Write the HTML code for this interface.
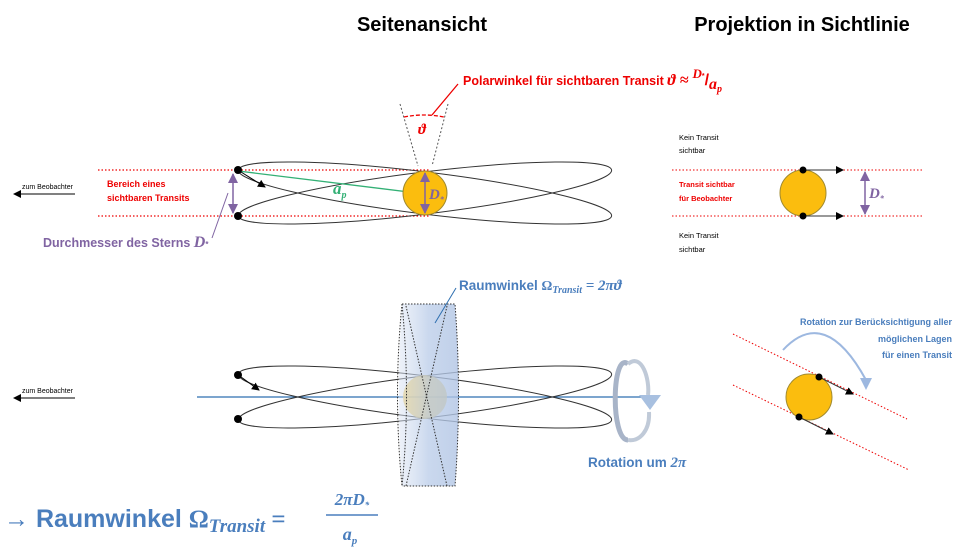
<!DOCTYPE html>
<html><head><meta charset="utf-8"><style>
body{margin:0;background:#fff;}
svg{display:block;font-family:"Liberation Sans",sans-serif;}
</style></head><body>
<svg width="960" height="557" viewBox="0 0 960 557" xmlns="http://www.w3.org/2000/svg">
<defs>
<marker id="ab" markerWidth="8" markerHeight="8" refX="7" refY="4" orient="auto" markerUnits="userSpaceOnUse"><path d="M0,0 L8,4 L0,8 z" fill="#000"/></marker>
<marker id="ap" markerWidth="10" markerHeight="10" refX="9" refY="5" orient="auto-start-reverse" markerUnits="userSpaceOnUse"><path d="M0,0 L10,5 L0,10 z" fill="#8064a2"/></marker>
<linearGradient id="cyl" x1="0" x2="1"><stop offset="0" stop-color="#dbe4f3" stop-opacity="0.5"/><stop offset="0.5" stop-color="#b8cbe8" stop-opacity="0.75"/><stop offset="1" stop-color="#b0c4e4" stop-opacity="0.8"/></linearGradient>
</defs>
<text x="422" y="31" font-size="20" font-weight="bold" text-anchor="middle">Seitenansicht</text>
<text x="802" y="31" font-size="20" font-weight="bold" text-anchor="middle">Projektion in Sichtlinie</text>

<line x1="98" y1="170" x2="430" y2="170" stroke="#e00" stroke-dasharray="1.5,2" stroke-width="1.2"/>
<line x1="98" y1="216" x2="430" y2="216" stroke="#e00" stroke-dasharray="1.5,2" stroke-width="1.2"/>
<text x="22" y="189" font-size="7">zum  Beobachter</text>
<line x1="75" y1="194" x2="14" y2="194" stroke="#000" marker-end="url(#ab)"/>
<text x="107" y="187" font-size="9" font-weight="bold" fill="#e00">Bereich eines</text>
<text x="107" y="201" font-size="9" font-weight="bold" fill="#e00">sichtbaren Transits</text>
<ellipse cx="425" cy="193" rx="188" ry="21" fill="none" stroke="#333" transform="rotate(7 425 193)"/>
<ellipse cx="425" cy="193" rx="188" ry="21" fill="none" stroke="#333" transform="rotate(-7 425 193)"/>
<line x1="238" y1="171" x2="425" y2="194" stroke="#33b075" stroke-width="1.3"/>
<circle cx="425" cy="193" r="22" fill="#fbbd0e" stroke="#a08a30"/>
<line x1="425" y1="173" x2="425" y2="213" stroke="#8064a2" stroke-width="1.5" marker-start="url(#ap)" marker-end="url(#ap)"/>
<text x="429" y="199" font-size="15" font-weight="bold" font-style="italic" fill="#8064a2" font-family="Liberation Serif,serif">D<tspan font-size="8" dy="3">*</tspan></text>
<text x="333" y="194" font-size="17" font-weight="bold" font-style="italic" fill="#33b075" font-family="Liberation Serif,serif">a<tspan font-size="10" dy="4">p</tspan></text>
<path d="M241 172 L265 187" stroke="#000" fill="none" marker-end="url(#ab)"/>
<circle cx="238" cy="170" r="4" fill="#000"/><circle cx="238" cy="216" r="4" fill="#000"/>
<line x1="233" y1="174" x2="233" y2="213" stroke="#8064a2" stroke-width="1.5" marker-start="url(#ap)" marker-end="url(#ap)"/>
<line x1="228" y1="193" x2="212" y2="238" stroke="#8064a2"/>
<text x="43" y="247" font-size="12.5" font-weight="bold" fill="#8064a2">Durchmesser des Sterns <tspan font-family="Liberation Serif,serif" font-style="italic" font-size="16">D</tspan><tspan font-size="8">*</tspan></text>
<line x1="400" y1="104" x2="418" y2="166" stroke="#555" stroke-dasharray="2,2"/>
<line x1="448" y1="104" x2="432" y2="166" stroke="#555" stroke-dasharray="2,2"/>
<path d="M404 117 Q424 113 444 117" stroke="#e00" stroke-dasharray="4,2" fill="none" stroke-width="1.3"/>
<line x1="432" y1="115" x2="458" y2="84" stroke="#e00" stroke-width="1.3"/>
<text x="418" y="134" font-size="15" font-weight="bold" font-style="italic" fill="#e00" font-family="Liberation Serif,serif">ϑ</text>
<text x="463" y="85" font-size="12.5" font-weight="bold" fill="#e00">Polarwinkel für sichtbaren Transit <tspan font-family="Liberation Serif,serif" font-style="italic" font-size="16">ϑ ≈ </tspan><tspan font-family="Liberation Serif,serif" font-style="italic" font-size="13" dy="-7">D</tspan><tspan font-size="7" dy="0">*</tspan><tspan font-size="16" dy="7">/</tspan><tspan font-family="Liberation Serif,serif" font-style="italic" font-size="16" dy="4">a</tspan><tspan font-family="Liberation Serif,serif" font-style="italic" font-size="10" dy="3">p</tspan></text>

<text x="679" y="140" font-size="7.5">Kein Transit</text>
<text x="679" y="153" font-size="7.5">sichtbar</text>
<text x="679" y="187" font-size="7.5" font-weight="bold" fill="#e00">Transit  sichtbar</text>
<text x="679" y="201" font-size="7.5" font-weight="bold" fill="#e00">für Beobachter</text>
<text x="679" y="238" font-size="7.5">Kein Transit</text>
<text x="679" y="252" font-size="7.5">sichtbar</text>
<line x1="672" y1="170" x2="922" y2="170" stroke="#e00" stroke-dasharray="1.5,2"/>
<line x1="672" y1="216" x2="922" y2="216" stroke="#e00" stroke-dasharray="1.5,2"/>
<circle cx="803" cy="193" r="23" fill="#fbbd0e" stroke="#a08a30"/>
<line x1="803" y1="170" x2="843" y2="170" stroke="#333" marker-end="url(#ab)"/>
<line x1="803" y1="216" x2="843" y2="216" stroke="#333" marker-end="url(#ab)"/>
<circle cx="803" cy="170" r="3.5" fill="#000"/><circle cx="803" cy="216" r="3.5" fill="#000"/>
<line x1="865" y1="172" x2="865" y2="214" stroke="#8064a2" stroke-width="1.5" marker-start="url(#ap)" marker-end="url(#ap)"/>
<text x="869" y="198" font-size="15" font-weight="bold" font-style="italic" fill="#8064a2" font-family="Liberation Serif,serif">D<tspan font-size="8" dy="3">*</tspan></text>

<text x="22" y="393" font-size="7">zum  Beobachter</text>
<line x1="75" y1="398" x2="14" y2="398" stroke="#000" marker-end="url(#ab)"/>
<line x1="197" y1="397" x2="650" y2="397" stroke="#2e6fb0" stroke-width="1.2"/>
<ellipse cx="425" cy="397" rx="188" ry="21" fill="none" stroke="#333" transform="rotate(7 425 397)"/>
<ellipse cx="425" cy="397" rx="188" ry="21" fill="none" stroke="#333" transform="rotate(-7 425 397)"/>
<path d="M241 377 L259 390" stroke="#000" fill="none" marker-end="url(#ab)"/>
<circle cx="238" cy="375" r="4" fill="#000"/><circle cx="238" cy="419" r="4" fill="#000"/>
<circle cx="425" cy="397" r="22" fill="#f3c850" opacity="0.8"/>
<path d="M402 304 L455 304 Q462 395 455 486 L402 486 Q396 395 402 304 z" fill="url(#cyl)"/>
<path d="M402 304 Q393 395 402 486" fill="none" stroke="#333" stroke-dasharray="1.5,1.5"/>
<path d="M402 304 Q411 395 402 486" fill="none" stroke="#333" stroke-dasharray="1.5,1.5"/>
<path d="M402 304 L455 304 Q462 395 455 486 L402 486" fill="none" stroke="#333" stroke-dasharray="1.5,1.5"/>
<line x1="406" y1="306" x2="447" y2="486" stroke="#333" stroke-dasharray="1.5,1.5"/>
<line x1="447" y1="306" x2="406" y2="486" stroke="#333" stroke-dasharray="1.5,1.5"/>
<line x1="435" y1="323" x2="456" y2="288" stroke="#2e6fb0"/>
<text x="459" y="290" font-size="13.5" font-weight="bold" fill="#4a7ebd">Raumwinkel <tspan font-family="Liberation Serif,serif">Ω</tspan><tspan font-family="Liberation Serif,serif" font-style="italic" font-size="10" dy="3">Transit</tspan><tspan font-family="Liberation Serif,serif" font-style="italic" font-size="15" dy="-3"> = 2πϑ</tspan></text>
<path d="M628 364 C 612 350, 610 440, 628 440" fill="none" stroke="#a8b4c8" stroke-width="5"/>
<path d="M628 364 C 642 352, 650 380, 648 395" fill="none" stroke="#c0cad8" stroke-width="4"/>
<path d="M639 395 L661 395 L650 410 z" fill="#a8c0e0"/>
<path d="M649 412 C 650 430, 640 442, 628 440" fill="none" stroke="#c0cad8" stroke-width="4"/>
<text x="588" y="467" font-size="13.5" font-weight="bold" fill="#4a7ebd">Rotation um <tspan font-family="Liberation Serif,serif" font-style="italic" font-size="15">2π</tspan></text>

<line x1="733" y1="334" x2="907" y2="419" stroke="#e00" stroke-dasharray="1.5,2"/>
<line x1="733" y1="385" x2="909" y2="470" stroke="#e00" stroke-dasharray="1.5,2"/>
<circle cx="809" cy="397" r="23" fill="#fbbd0e" stroke="#a08a30"/>
<line x1="819" y1="377" x2="853" y2="394" stroke="#333" marker-end="url(#ab)"/>
<line x1="799" y1="417" x2="833" y2="434" stroke="#333" marker-end="url(#ab)"/>
<circle cx="819" cy="377" r="3.5" fill="#000"/><circle cx="799" cy="417" r="3.5" fill="#000"/>
<path d="M783 350 Q825 305 866 380" fill="none" stroke="#9db8e0" stroke-width="2"/>
<path d="M860 378 L872 378 L866 390 z" fill="#9db8e0"/>
<text x="952" y="325" font-size="9" font-weight="bold" fill="#4a7ebd" text-anchor="end">Rotation zur Berücksichtigung aller</text>
<text x="952" y="342" font-size="9" font-weight="bold" fill="#4a7ebd" text-anchor="end">möglichen Lagen</text>
<text x="952" y="358" font-size="9" font-weight="bold" fill="#4a7ebd" text-anchor="end">für einen Transit</text>

<text x="4" y="527" font-size="25" font-weight="bold" fill="#4a7ebd">→ Raumwinkel <tspan font-family="Liberation Serif,serif">Ω</tspan><tspan font-family="Liberation Serif,serif" font-style="italic" font-size="19" dy="5">Transit</tspan><tspan font-family="Liberation Serif,serif" font-size="25" dy="-5"> =</tspan></text>
<text x="352" y="505" font-size="17" font-weight="bold" font-style="italic" fill="#4a7ebd" font-family="Liberation Serif,serif" text-anchor="middle">2πD<tspan font-size="9" dy="3">*</tspan></text>
<line x1="326" y1="515" x2="378" y2="515" stroke="#4a7ebd" stroke-width="1.5"/>
<text x="350" y="540" font-size="18" font-weight="bold" font-style="italic" fill="#4a7ebd" font-family="Liberation Serif,serif" text-anchor="middle">a<tspan font-size="11" dy="4">p</tspan></text>
</svg>
</body></html>
